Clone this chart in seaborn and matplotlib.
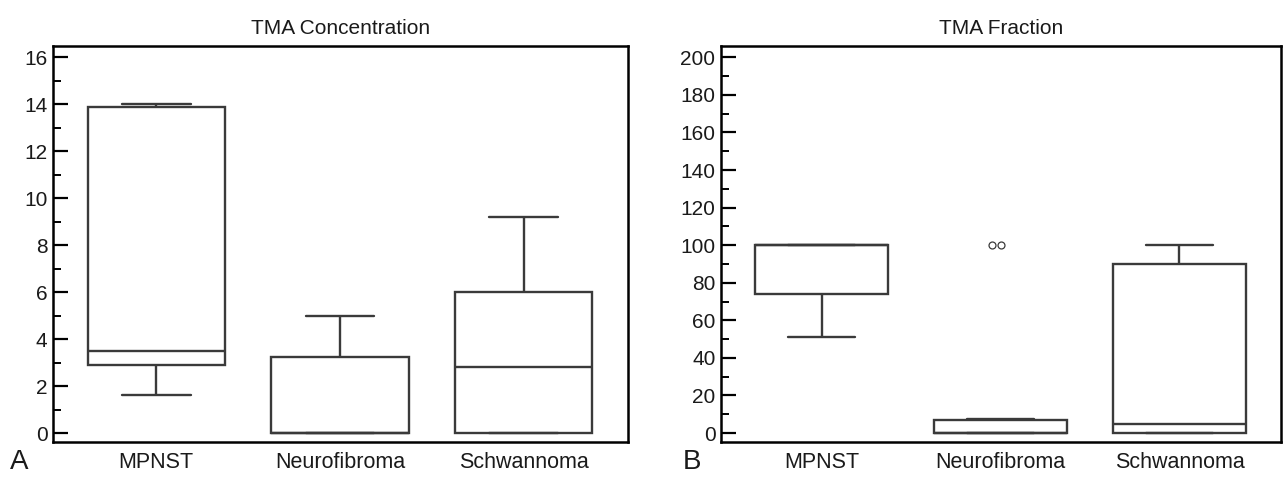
import seaborn as sns
import matplotlib.pyplot as plt
from matplotlib.ticker import MultipleLocator
import numpy as np
import pandas as pd

# values (five-number style samples per group)
groups = ['MPNST', 'Neurofibroma', 'Schwannoma']
conc_mpnst = [1.6, 2.9, 3.5, 13.9, 14.0]
conc_neuro = [0.0, 0.0, 0.0, 3.25, 5.0]
conc_schwann = [0.0, 0.0, 2.8, 6.0, 9.2]
frac_mpnst = [51, 74, 100, 100, 100]
frac_neuro = [0, 0, 0, 0, 0, 0, 0, 2, 5, 7, 7.5, 100, 100]
frac_schwann = [0, 0, 5, 90, 100]


def make_df(lists):
    rows = []
    for g, vals in zip(groups, lists):
        for v in vals:
            rows.append({'group': g, 'value': v})
    return pd.DataFrame(rows)


def outliers(df):
    keep = []
    for g, sub in df.groupby('group'):
        q1, q3 = np.percentile(sub['value'], [25, 75])
        iqr = q3 - q1
        m = (sub['value'] > q3 + 1.5 * iqr) | (sub['value'] < q1 - 1.5 * iqr)
        keep.append(sub[m])
    return pd.concat(keep)


def draw_panel(ax, df, title, ylim, major, minor):
    line_c = '#3a3a3a'
    sns.boxplot(data=df, x='group', y='value', order=groups, ax=ax, width=0.747,
                color='white', linecolor=line_c, linewidth=1.7, showfliers=False)
    out = outliers(df)
    if len(out):
        sns.swarmplot(data=out, x='group', y='value', order=groups, ax=ax, size=5,
                      color='white', edgecolor=line_c, linewidth=0.9)
    ax.set_xlim(-0.562, 2.568)
    ax.set_ylim(*ylim)
    ax.yaxis.set_major_locator(MultipleLocator(major))
    ax.yaxis.set_minor_locator(MultipleLocator(minor))
    ax.set_xlabel('')
    ax.set_ylabel('')
    ax.set_title(title, fontsize=15, pad=9)
    for s in ax.spines.values():
        s.set_visible(True)
        s.set_linewidth(1.8)
        s.set_color('black')
    ax.tick_params(axis='y', which='major', direction='in', length=11, width=1.6,
                   labelsize=15, pad=4, left=True, right=False)
    ax.tick_params(axis='y', which='minor', direction='in', length=6, width=1.4,
                   left=True, right=False)
    ax.tick_params(axis='x', direction='in', length=8, width=1.6, labelsize=15.5,
                   pad=7, top=False)


sns.set_style('white')
plt.rcParams['font.family'] = ['Liberation Sans', 'DejaVu Sans']
plt.rcParams['text.color'] = '#1a1a1a'
plt.rcParams['xtick.color'] = 'black'
plt.rcParams['ytick.color'] = 'black'
plt.rcParams['xtick.labelcolor'] = '#1a1a1a'
plt.rcParams['ytick.labelcolor'] = '#1a1a1a'

fig = plt.figure(figsize=(12.83, 4.79), dpi=100)
ax1 = fig.add_axes([0.0413, 0.0772, 0.4482, 0.8267])
ax2 = fig.add_axes([0.562, 0.0772, 0.4365, 0.8267])

draw_panel(ax1, make_df([conc_mpnst, conc_neuro, conc_schwann]),
           'TMA Concentration', (-0.383, 16.48), 2, 1)
draw_panel(ax2, make_df([frac_mpnst, frac_neuro, frac_schwann]),
           'TMA Fraction', (-4.8, 206), 20, 10)

fig.text(0.008, 0.02, 'A', fontsize=20, va='baseline')
fig.text(0.532, 0.02, 'B', fontsize=20, va='baseline')

fig.savefig('out.png', dpi=100)
